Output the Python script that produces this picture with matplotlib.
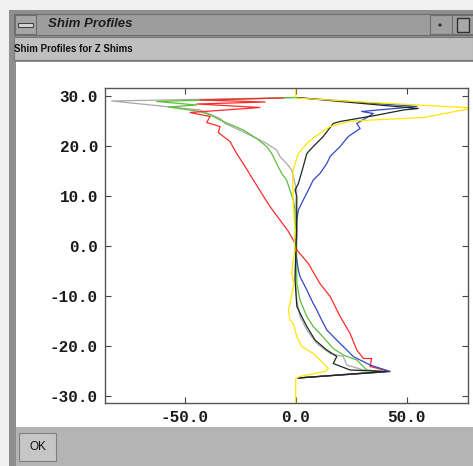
import matplotlib.pyplot as plt
from matplotlib.patches import Rectangle, Circle

W, H = 473, 466

# shim profiles: field offset (x) against position z, one pair of lists per shim
red_x = [-5.7, -43.1, -13.8, -44.5, -16.1, -47.6, -38.6, -40.1, -34.1, -34.9, -29.6, -26.6,
         -22.8, -19.1, -15.3, -11.6, -7.1, -3.3, -1.1, -0.3, 0.5, 5.7, 10.9, 15.5, 20.0,
         24.5, 27.5, 30.5, 34.2, 33.5, 42.5, 1.0]
red_z = [29.5, 29.1, 28.7, 28.3, 27.6, 26.6, 25.8, 24.6, 23.8, 22.6, 20.8, 18.4,
         15.8, 13.1, 10.4, 7.8, 5.1, 2.8, 1.1, 0.4, -0.9, -3.6, -7.6, -10.2, -14.2,
         -17.6, -20.9, -22.6, -22.6, -24.2, -25.2, -26.5]

green_x = [0.0, -62.6, -44.6, -57.4, -43.1, -38.6, -32.6, -23.6, -17.6, -13.1, -10.8, -8.6,
           -6.3, -4.1, -2.6, -1.1, -0.3, -0.3, 0.1, 0.4, 0.5, 1.9, 5.0, 7.9, 10.9, 16.9,
           21.4, 27.5, 32.0, 39.5, 1.0]
green_z = [29.6, 28.8, 28.1, 27.7, 26.8, 26.1, 24.8, 23.1, 21.4, 19.8, 18.4, 16.4,
           14.4, 13.1, 11.1, 9.1, 7.1, 5.1, 3.1, 0.1, -7.6, -10.9, -14.2, -16.2, -17.6, -20.6,
           -21.9, -22.9, -24.9, -25.2, -26.5]

gray_x = [0.0, -82.9, -43.1, -34.0, -31.8, -22.1, -13.1, -8.6, -7.1, -4.1, -1.8, -0.3,
          0.5, 0.1, 0.1, 0.5, -0.3, 0.5, 1.9, 5.0, 9.5, 15.5, 21.4, 23.0, 30.5, 39.3, 1.0]
gray_z = [29.6, 28.9, 27.1, 25.4, 24.4, 22.4, 20.4, 19.1, 17.8, 16.4, 15.1, 12.4,
          11.1, 9.1, 5.1, 1.1, -6.2, -10.9, -14.2, -16.9, -19.6, -21.6, -22.2, -23.9, -24.9,
          -25.2, -26.5]

black_x = [0.0, 55.2, 48.5, 35.7, 20.0, 16.9, 12.4, 7.9, 5.0, 3.4, 1.2, -0.3, 0.5, 0.4,
           0.1, -0.3, 0.5, 2.7, 5.0, 8.7, 14.0, 18.5, 16.9, 24.5, 40.7, 1.0]
black_z = [29.6, 27.4, 27.1, 26.0, 24.8, 24.4, 21.8, 19.8, 18.4, 15.8, 12.4, 11.1, 9.8, 3.1,
           0.1, -6.9, -12.2, -14.2, -16.2, -18.9, -20.9, -22.2, -23.6, -24.9, -25.2, -26.5]

blue_x = [0.0, 54.5, 29.7, 35.0, 27.5, 29.0, 23.7, 20.0, 15.5, 14.0, 10.9, 7.9, 5.7, 3.4,
          1.2, 0.5, 0.5, -0.3, 0.5, 1.2, 1.9, 5.0, 7.9, 9.5, 10.9, 14.0, 20.0, 21.4, 25.9,
          33.5, 42.5, 1.0]
blue_z = [29.6, 27.8, 26.8, 26.4, 24.4, 23.4, 21.8, 19.8, 17.8, 16.4, 14.4, 13.1, 11.1, 9.1,
          7.1, 5.1, 1.8, -0.9, -2.9, -4.9, -6.2, -8.9, -11.6, -12.9, -14.2, -16.9, -19.6, -20.2,
          -22.2, -23.9, -25.2, -26.5]

yellow_x = [0.0, 0.0, 25.9, 80.0, 57.5, 25.2, 15.5, 8.7, 5.0, 1.2, -0.3, -1.1, -1.4, -1.1,
            -0.3, -0.6, -0.3, -1.1, -1.8, -0.8, -2.6, -3.3, -2.6, -1.1, 0.5, 2.7, 7.9, 10.9,
            14.7, 13.2, 1.9, 0.0, 0.0]
yellow_z = [33.0, 29.5, 28.8, 27.5, 25.6, 24.9, 23.8, 21.8, 20.4, 18.4, 16.4, 15.1, 13.1, 7.8,
            3.1, 1.1, -0.9, -2.9, -5.6, -7.6, -11.6, -12.9, -14.9, -15.6, -18.2, -20.2, -21.6,
            -22.9, -24.6, -25.2, -26.2, -26.6, -33.0]

series = [
    (gray_x, gray_z, '#a9a9a9'),
    (green_x, green_z, '#5cbf3a'),
    (red_x, red_z, '#ff2a2a'),
    (blue_x, blue_z, '#3346c4'),
    (black_x, black_z, '#1c2a1c'),
    (yellow_x, yellow_z, '#ffe600'),
]

x_ticks = [-50, 0, 50]
z_ticks = [30, 20, 10, 0, -10, -20, -30]

fig = plt.figure(figsize=(W / 100, H / 100), dpi=100, facecolor='#b4b4b4')


def box(x, y, w, h, fc, ec='none', lw=0.0):
    fig.patches.append(Rectangle((x / W, 1 - (y + h) / H), w / W, h / H,
                                 transform=fig.transFigure, facecolor=fc,
                                 edgecolor=ec, linewidth=lw, zorder=-5))


def label(x, y, s, **kw):
    fig.text(x / W, 1 - y / H, s, va='center', **kw)


# window chrome
box(0, 0, W, 10, '#f0f0f0')
box(0, 0, 9, H, '#f0f0f0')
box(9, 10, W - 9, H - 10, '#8e8e8e')
box(14, 14, W - 14, 21, '#9d9d9d', '#6e6e6e', 0.8)
box(15, 15, 21, 19, '#a6a6a6', '#6e6e6e', 0.8)
box(18, 23, 15, 4, '#d8d8d8', '#444444', 0.8)
label(48, 24, 'Shim Profiles', fontsize=9.5, fontstyle='italic', fontweight='bold',
      color='#1e1e1e', family=['Liberation Sans', 'DejaVu Sans'])
box(430, 15, 22, 19, '#a0a0a0', '#6e6e6e', 0.8)
fig.patches.append(Circle((440 / W, 1 - 25 / H), 1.6 / W, transform=fig.transFigure,
                          facecolor='#303030', edgecolor='none', zorder=-4))
box(452, 15, 21, 19, '#a0a0a0', '#6e6e6e', 0.8)
box(457, 18, 12, 14, '#a8a8a8', '#303030', 1.0)
box(14, 37, W - 14, 23, '#bfbfbf', '#7a7a7a', 0.8)
label(14, 49, 'Shim Profiles for Z Shims', fontsize=7, fontweight='bold',
      color='#111111', family=['Liberation Sans Narrow', 'Liberation Sans', 'DejaVu Sans'])
box(16, 62, W - 16, 365, 'white')
box(16, 427, W - 16, 39, '#b4b4b4')
box(19, 433, 37, 28, '#c6c6c6', '#7f7f7f', 0.8)
label(37.5, 447, 'OK', fontsize=8.5, ha='center', color='#111111',
      family=['Liberation Sans Narrow', 'Liberation Sans', 'DejaVu Sans'])

# plot area
ax = fig.add_axes([105 / W, 1 - 403 / H, (468 - 105) / W, (403 - 88) / H])
ax.set_facecolor('white')
for x, z, c in series:
    ax.plot(x, z, color=c, linewidth=0.9)

ax.set_xlim(-85.9, 77.6)
ax.set_ylim(-31.5, 31.5)
ax.set_xticks(x_ticks)
ax.set_yticks(z_ticks)
ax.set_xticklabels([f'{v:.1f}' for v in x_ticks])
ax.set_yticklabels([f'{v:.1f}' for v in z_ticks])
ax.tick_params(direction='in', length=4, width=0.8, color='#444444',
               top=True, right=True, pad=5,
               labelsize=11.5, labelcolor='#1a1a1a')
for t in ax.get_xticklabels() + ax.get_yticklabels():
    t.set_family(['Liberation Mono', 'DejaVu Sans Mono'])
    t.set_fontweight('bold')
for s in ax.spines.values():
    s.set_color('#555555')
    s.set_linewidth(1.0)

fig.savefig('out.png', dpi=100, facecolor=fig.get_facecolor())
